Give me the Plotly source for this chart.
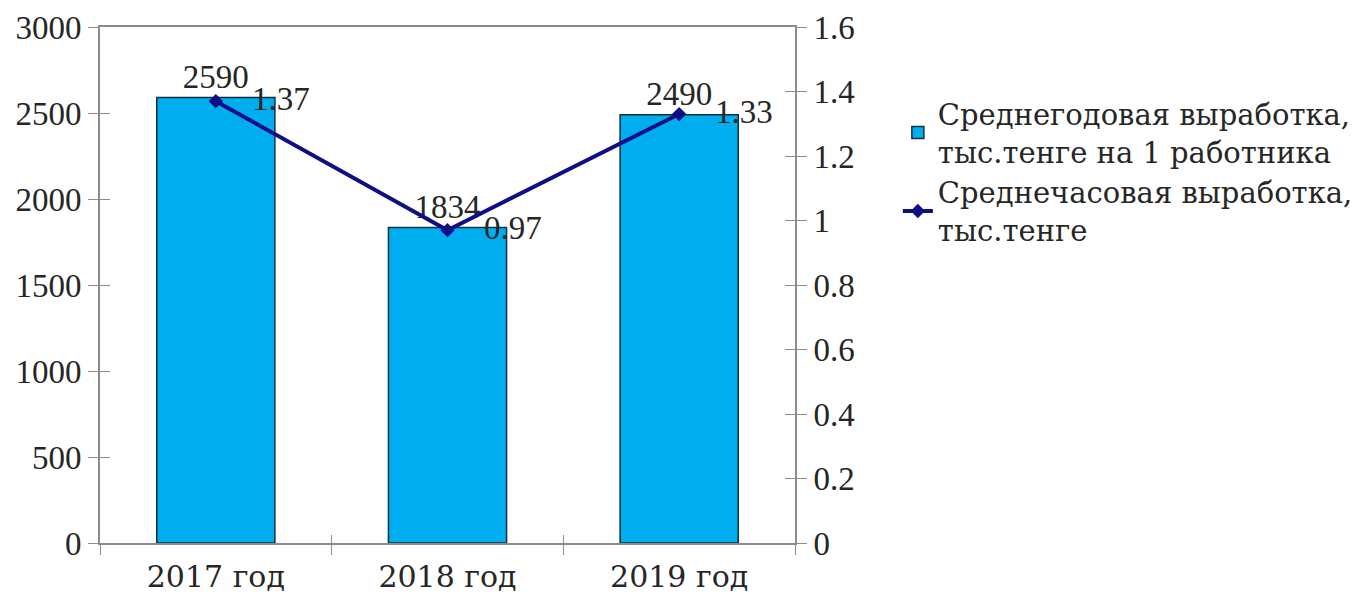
import plotly.graph_objects as go

# Данные
years = ["2017 год", "2018 год", "2019 год"]
annual_output = [2590, 1834, 2490]      # тыс. тенге на 1 работника
hourly_output = [1.37, 0.97, 1.33]      # тыс. тенге

name_annual = "Среднегодовая выработка,<br>тыс.тенге на 1 работника"
name_hourly = "Среднечасовая выработка,<br>тыс.тенге"

FONT = "Liberation Serif"
CYR_FONT = "DejaVu Serif"
TXT = "#262626"
AXIS = "#8c8c8c"
FS = 33

fig = go.Figure()

fig.add_trace(go.Bar(
    x=years, y=annual_output, name=name_annual,
    marker=dict(color="#00AEEF", line=dict(color="#10303f", width=1.5)),
    text=[str(v) for v in annual_output], textposition="outside",
    textfont=dict(family=FONT, size=FS, color=TXT),
    cliponaxis=False,
))

fig.add_trace(go.Scatter(
    x=years, y=hourly_output, name=name_hourly, yaxis="y2",
    mode="lines+markers",
    line=dict(color="#0f0f85", width=4),
    marker=dict(symbol="diamond", size=11, color="#0f0f85"),
    cliponaxis=False,
))

# Подписи значений среднечасовой выработки справа от точек
for x, v in zip(years, hourly_output):
    fig.add_annotation(
        x=x, y=v, xref="x", yref="y2", text=f"{v:g}",
        showarrow=False, xanchor="left", yanchor="middle", xshift=34, yshift=2,
        font=dict(family=FONT, size=FS, color=TXT),
    )

tick_font = dict(family=FONT, size=FS, color=TXT)

fig.update_layout(
    width=1370, height=596,
    margin=dict(l=100, r=573, t=27, b=53),
    paper_bgcolor="white", plot_bgcolor="white",
    bargap=0.49,
    showlegend=True,
    legend=dict(
        x=1.148, y=0.881, xanchor="left", yanchor="top",
        font=dict(family=CYR_FONT, size=29, color=TXT),
        tracegroupgap=4,
    ),
    font=dict(family=FONT, color=TXT),
    xaxis=dict(
        showline=True, linecolor=AXIS, linewidth=2, mirror=True,
        ticks="outside", tickson="boundaries", ticklen=10, tickcolor=AXIS,
        tickfont=dict(family=CYR_FONT, size=30, color=TXT),
        ticklabelstandoff=6,
        showgrid=False, automargin=False,
    ),
    # inner half of the category boundary ticks
    xaxis2=dict(
        overlaying="x", type="category", categoryarray=years,
        categoryorder="array", range=[-0.5, 2.5], matches="x",
        ticks="inside", tickson="boundaries", ticklen=8, tickcolor=AXIS,
        showticklabels=False, showline=False, showgrid=False,
    ),
    yaxis=dict(
        range=[0, 3000], dtick=500, showgrid=False, zeroline=False,
        showline=True, linecolor=AXIS, linewidth=2,
        ticks="outside", ticklen=10, tickcolor=AXIS,
        tickfont=tick_font, automargin=False,
    ),
    yaxis2=dict(
        range=[0, 1.6], dtick=0.2, overlaying="y", side="right",
        showgrid=False, zeroline=False,
        showline=True, linecolor=AXIS, linewidth=2,
        ticks="outside", ticklen=10, tickcolor=AXIS,
        tickfont=tick_font, automargin=False,
    ),
    # inner halves of the y tick marks
    yaxis3=dict(
        range=[0, 3000], dtick=500, overlaying="y", side="left",
        ticks="inside", ticklen=10, tickcolor=AXIS,
        showticklabels=False, showline=False, showgrid=False, zeroline=False,
    ),
    yaxis4=dict(
        range=[0, 1.6], dtick=0.2, overlaying="y", side="right",
        ticks="inside", ticklen=10, tickcolor=AXIS,
        showticklabels=False, showline=False, showgrid=False, zeroline=False,
    ),
)

# invisible carriers so the helper axes are drawn
fig.add_trace(go.Scatter(x=years, y=annual_output, xaxis="x2", yaxis="y3",
                         mode="markers", marker=dict(opacity=0),
                         showlegend=False, hoverinfo="skip"))
fig.add_trace(go.Scatter(x=years, y=hourly_output, xaxis="x2", yaxis="y4",
                         mode="markers", marker=dict(opacity=0),
                         showlegend=False, hoverinfo="skip"))

fig.write_html("out.html")
